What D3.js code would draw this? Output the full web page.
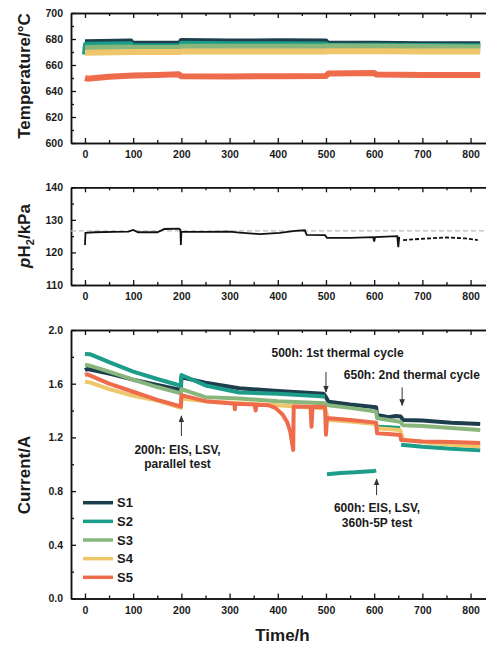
<!DOCTYPE html>
<html>
<head>
<meta charset="utf-8">
<script src="https://cdn.jsdelivr.net/npm/d3@7"></script>
<style>
body { margin: 0; background: #fff; }
svg text { font-family: "Liberation Sans", Arial, sans-serif; font-weight: bold; fill: #1a1a1a; }
</style>
</head>
<body>
<script>
////////////////////////////////////////////////////////////////////////////////
// Data
var names  = ["S1", "S2", "S3", "S4", "S5"];
var colors = ["#1d3e4d", "#1c9d89", "#88b67d", "#efc66b", "#ee6b4c"];

var xMajor = [0, 100, 200, 300, 400, 500, 600, 700, 800];
var xMinor = [50, 150, 250, 350, 450, 550, 650, 750];

// temperature, degC
var tempS1 = [[0, 677.5], [95, 678], [98, 676.3], [198, 676.3], [200, 678.5], [300, 678], [400, 678.2], [500, 678], [502, 676.5], [600, 676.3], [700, 676], [820, 676]];
var tempS2 = [[0, 668], [2, 675.5], [95, 676], [98, 674.5], [198, 674.5], [200, 676.3], [300, 676], [400, 676], [500, 675.8], [502, 675], [600, 674.8], [700, 674.6], [820, 674.5]];
var tempS3 = [[0, 673], [95, 673.5], [100, 673], [198, 673], [200, 674], [300, 674], [400, 674], [500, 674], [502, 674.3], [600, 674], [700, 673.8], [820, 673.5]];
var tempS4 = [[0, 669.5], [100, 670], [198, 670], [200, 670.3], [300, 670.3], [400, 670.3], [500, 670.3], [502, 670.5], [600, 670.5], [700, 670.3], [820, 670.3]];
var tempS5 = [[0, 650], [5, 649.5], [50, 651], [100, 652], [150, 652.3], [195, 652.8], [200, 651.3], [300, 651.2], [400, 651.3], [500, 651.5], [505, 653.5], [600, 653.8], [605, 652.6], [700, 652.3], [820, 652.3]];

// hydrogen partial pressure, kPa
var pH2 = [[0, 122.3], [1, 126.0], [20, 126.2], [60, 126.3], [90, 126.4], [100, 126.9], [110, 126.2], [150, 126.2], [165, 127.2], [195, 127.3], [198, 127.0], [199, 122.3], [200, 126.4], [250, 126.3], [300, 126.4], [321, 126.1], [363, 125.6], [404, 126.0], [436, 126.6], [456, 126.8], [460, 125.4], [498, 125.3], [502, 124.5], [550, 124.5], [598, 124.7], [600, 123.3], [602, 124.7], [648, 125.0], [650, 121.6], [652, 124.8]];
var pH2Late = [[660, 123.8], [700, 124.2], [750, 124.6], [790, 124.3], [815, 123.8]];
var pH2Ref = 126.6;

// current, A  (null = gap in the record)
var curS1 = [[0, 1.70], [5, 1.71], [50, 1.675], [100, 1.63], [150, 1.59], [199, 1.553], [200, 1.646], [210, 1.64], [250, 1.607], [320, 1.566], [400, 1.545], [495, 1.525], [500, 1.50], [505, 1.466], [550, 1.445], [604, 1.425], [606, 1.367], [630, 1.35], [645, 1.36], [655, 1.355], [660, 1.33], [700, 1.325], [760, 1.31], [820, 1.30]];
var curS2 = [[0, 1.822], [10, 1.82], [50, 1.76], [100, 1.69], [150, 1.635], [199, 1.585], [200, 1.665], [210, 1.65], [250, 1.587], [320, 1.535], [400, 1.525], [498, 1.505], [500, null], [502, 0.925], [530, 0.935], [560, 0.94], [600, 0.95], [604, 0.955], [605, null], [606, 1.28], [630, 1.275], [654, 1.27], [655, null], [656, 1.145], [700, 1.13], [760, 1.115], [820, 1.105]];
var curS3 = [[0, 1.739], [10, 1.735], [50, 1.69], [100, 1.63], [150, 1.575], [199, 1.528], [200, 1.56], [250, 1.50], [320, 1.49], [400, 1.47], [498, 1.455], [505, 1.44], [550, 1.42], [604, 1.392], [606, 1.342], [654, 1.317], [660, 1.29], [700, 1.285], [760, 1.27], [820, 1.255]];
var curS4 = [[0, 1.615], [10, 1.61], [50, 1.56], [100, 1.51], [150, 1.475], [199, 1.42], [200, 1.49], [250, 1.47], [320, 1.455], [400, 1.44], [498, 1.415], [505, 1.33], [550, 1.318], [604, 1.30], [606, 1.268], [654, 1.255], [660, 1.185], [700, 1.165], [760, 1.145], [820, 1.132]];
var curS5 = [[0, 1.665], [5, 1.67], [50, 1.60], [100, 1.54], [150, 1.48], [199, 1.43], [200, 1.515], [250, 1.47], [300, 1.455], [310, 1.45], [311, 1.41], [312, 1.45], [352, 1.445], [354, 1.40], [356, 1.443], [380, 1.44], [395, 1.42], [410, 1.37], [420, 1.31], [426, 1.24], [430, 1.15], [432, 1.106], [433, 1.43], [468, 1.428], [470, 1.28], [472, 1.428], [498, 1.426], [500, 1.22], [502, 1.345], [550, 1.33], [604, 1.31], [606, 1.23], [630, 1.225], [654, 1.218], [656, 1.18], [700, 1.17], [760, 1.165], [820, 1.158]];

// annotations on the current panel: arrow [hour, from, to], text lines
var notes = [
    {arrow: [200, 1.21, 1.36], tx: 192, anchor: "middle", lines: [["200h: EIS, LSV,", 1.076], ["parallel test", 0.972]]},
    {arrow: [500, 1.687, 1.538], tx: 387, anchor: "start", lines: [["500h: 1st thermal cycle", 1.799]]},
    {arrow: [658, 1.572, 1.438], tx: 537, anchor: "start", lines: [["650h: 2nd thermal cycle", 1.635]]},
    {arrow: [605, 0.77, 0.89], tx: 606, anchor: "middle", lines: [["600h: EIS, LSV,", 0.644], ["360h-5P test", 0.533]]}
];

////////////////////////////////////////////////////////////////////////////////
var W = 486, H = 648;
var svg = d3.select("body").append("svg")
    .attr("width", W)
    .attr("height", H);

var defs = svg.append("defs");
defs.append("marker")
    .attr("id", "head")
    .attr("viewBox", "0 0 10 10")
    .attr("refX", 9).attr("refY", 5)
    .attr("markerWidth", 7).attr("markerHeight", 7)
    .attr("markerUnits", "userSpaceOnUse")
    .attr("orient", "auto")
  .append("path")
    .attr("d", "M0,1 L10,5 L0,9 Z")
    .attr("fill", "#333");

var x = d3.scaleLinear().domain([-29, 832]).range([71, 486]);

var yTemp = d3.scaleLinear().domain([600, 700]).range([143, 13]);
var yP    = d3.scaleLinear().domain([110, 140]).range([285, 187.3]);
var yCur  = d3.scaleLinear().domain([0, 2]).range([598.5, 330]);

function styleAxis(g) {
    g.selectAll("path.domain").attr("stroke", "#111").attr("stroke-width", 1.5);
    g.selectAll(".tick line").attr("stroke", "#111").attr("stroke-width", 1.3);
    g.selectAll("text").attr("font-size", "10.5px").attr("fill", "#1a1a1a");
}

function frame(y, yMajor, yMinor, fmt) {
    var r = y.range();
    var bottom = r[0], top = r[1];

    // bottom axis, inward ticks
    svg.append("g").attr("transform", "translate(0," + bottom + ")")
        .call(d3.axisBottom(x).tickValues(xMajor).tickSize(-5).tickSizeOuter(0).tickPadding(8))
        .call(styleAxis);
    svg.append("g").attr("transform", "translate(0," + bottom + ")")
        .call(d3.axisBottom(x).tickValues(xMinor).tickSize(-3).tickSizeOuter(0).tickFormat(""))
        .call(styleAxis);

    // top axis (mirror)
    svg.append("g").attr("transform", "translate(0," + top + ")")
        .call(d3.axisTop(x).tickValues(xMajor).tickSize(-5).tickSizeOuter(0).tickFormat(""))
        .call(styleAxis);
    svg.append("g").attr("transform", "translate(0," + top + ")")
        .call(d3.axisTop(x).tickValues(xMinor).tickSize(-3).tickSizeOuter(0).tickFormat(""))
        .call(styleAxis);

    // left axis
    svg.append("g").attr("transform", "translate(71,0)")
        .call(d3.axisLeft(y).tickValues(yMajor).tickSize(-5).tickSizeOuter(0).tickPadding(8).tickFormat(fmt))
        .call(styleAxis);
    svg.append("g").attr("transform", "translate(71,0)")
        .call(d3.axisLeft(y).tickValues(yMinor).tickSize(-3).tickSizeOuter(0).tickFormat(""))
        .call(styleAxis);
}

function yTitle(cy, build) {
    var t = svg.append("text")
        .attr("transform", "translate(30," + cy + ") rotate(-90)")
        .attr("text-anchor", "middle")
        .attr("font-size", "17px");
    build(t);
}

////////////////////////////////////////////////////////////////////////////////
// Panel 1: temperature (noisy bands -> thick strokes)
frame(yTemp, [600, 620, 640, 660, 680, 700], [610, 630, 650, 670, 690], d3.format("d"));

var lineT = d3.line().x(function(d) { return x(d[0]); }).y(function(d) { return yTemp(d[1]); });
[tempS1, tempS2, tempS3, tempS4, tempS5].forEach(function(s, i) {
    svg.append("path").datum(s)
        .attr("d", lineT)
        .attr("fill", "none")
        .attr("stroke", colors[i])
        .attr("stroke-width", 6)
        .attr("stroke-linejoin", "round");
});

yTitle(76, function(t) { t.text("Temperature/\u00b0C"); });

////////////////////////////////////////////////////////////////////////////////
// Panel 2: pH2
frame(yP, [110, 120, 130, 140], [115, 125, 135], d3.format("d"));

svg.append("line")
    .attr("x1", x.range()[0]).attr("x2", x.range()[1])
    .attr("y1", yP(pH2Ref)).attr("y2", yP(pH2Ref))
    .attr("stroke", "#bdbdbd")
    .attr("stroke-width", 1.2)
    .attr("stroke-dasharray", "5,3");

var lineP = d3.line().x(function(d) { return x(d[0]); }).y(function(d) { return yP(d[1]); });
svg.append("path").datum(pH2)
    .attr("d", lineP)
    .attr("fill", "none")
    .attr("stroke", "#111")
    .attr("stroke-width", 1.8);
svg.append("path").datum(pH2Late)
    .attr("d", lineP)
    .attr("fill", "none")
    .attr("stroke", "#111")
    .attr("stroke-width", 1.8)
    .attr("stroke-dasharray", "4,2");

yTitle(236, function(t) {
    t.append("tspan").attr("font-style", "italic").text("p");
    t.append("tspan").text("H");
    t.append("tspan").attr("font-size", "11px").attr("dy", 4).text("2");
    t.append("tspan").attr("dy", -4).text("/kPa");
});

////////////////////////////////////////////////////////////////////////////////
// Panel 3: current
frame(yCur, [0, 0.4, 0.8, 1.2, 1.6, 2.0], [0.2, 0.6, 1.0, 1.4, 1.8], d3.format(".1f"));

var lineC = d3.line()
    .defined(function(d) { return d[1] != null; })
    .x(function(d) { return x(d[0]); })
    .y(function(d) { return yCur(d[1]); });
[curS1, curS2, curS3, curS4, curS5].forEach(function(s, i) {
    svg.append("path").datum(s)
        .attr("d", lineC)
        .attr("fill", "none")
        .attr("stroke", colors[i])
        .attr("stroke-width", 4)
        .attr("stroke-linejoin", "round");
});

// annotations
notes.forEach(function(n) {
    svg.append("line")
        .attr("x1", x(n.arrow[0])).attr("x2", x(n.arrow[0]))
        .attr("y1", yCur(n.arrow[1])).attr("y2", yCur(n.arrow[2]))
        .attr("stroke", "#333")
        .attr("stroke-width", 1)
        .attr("marker-end", "url(#head)");
    n.lines.forEach(function(l) {
        svg.append("text")
            .attr("x", x(n.tx))
            .attr("y", yCur(l[1]))
            .attr("text-anchor", n.anchor)
            .attr("font-size", "12px")
            .attr("fill", "#2d2d2d")
            .text(l[0]);
    });
});

// legend
var legend = svg.append("g").attr("transform", "translate(83,502.7)");
names.forEach(function(name, i) {
    var row = legend.append("g").attr("transform", "translate(0," + (i * 18.65) + ")");
    row.append("line")
        .attr("x1", 0).attr("x2", 30)
        .attr("stroke", colors[i])
        .attr("stroke-width", 3.5);
    row.append("text")
        .attr("x", 34).attr("y", 4.6)
        .attr("font-size", "13px")
        .text(name);
});

yTitle(475, function(t) { t.text("Current/A"); });

svg.append("text")
    .attr("x", 282.5).attr("y", 641)
    .attr("text-anchor", "middle")
    .attr("font-size", "17px")
    .text("Time/h");
</script>
</body>
</html>
